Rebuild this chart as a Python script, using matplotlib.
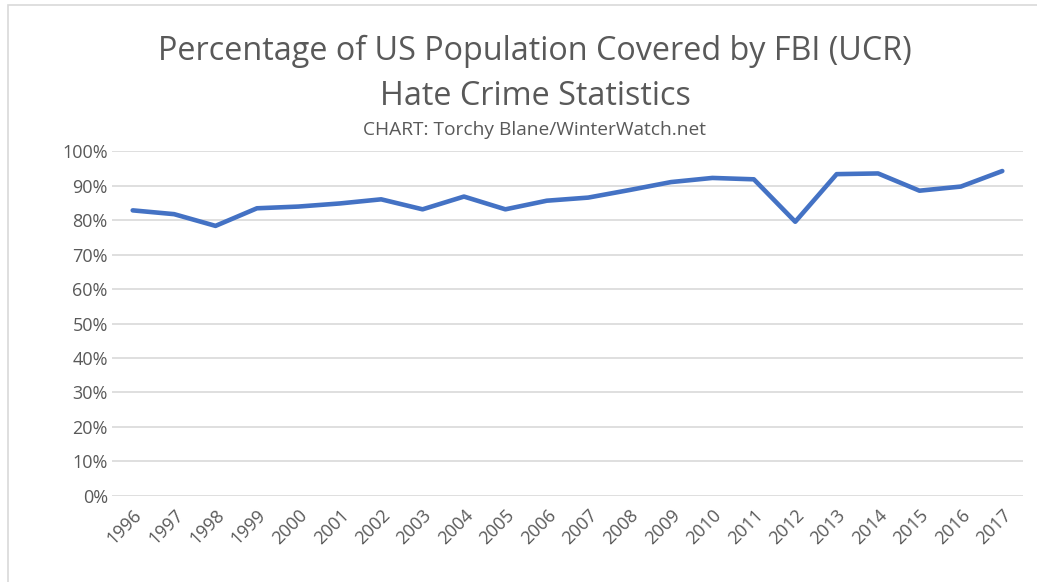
import numpy as np
import matplotlib
matplotlib.use("Agg")
import matplotlib.pyplot as plt
from matplotlib.patches import Rectangle
from matplotlib.ticker import FuncFormatter

# 数据：FBI (UCR) 仇恨犯罪统计覆盖人口比例
years = [str(y) for y in range(1996, 2018)]
coverage = [82.8, 81.7, 78.3, 83.4, 83.9, 84.8, 86.0, 83.1, 86.8, 83.1, 85.6,
            86.5, 88.7, 91.0, 92.2, 91.8, 79.5, 93.3, 93.5, 88.5, 89.7, 94.2]

TEXT = "#595959"
LINE = "#4472C4"
GRID = "#D9D9D9"

plt.rcParams.update({
    "font.family": ["Open Sans", "DejaVu Sans"],
    "text.color": TEXT,
})

fig = plt.figure(figsize=(10.37, 5.82), dpi=100)
fig.patches.append(Rectangle((8 / 1037, -0.1), 1.2, 1 - 5 / 582 + 0.1,
                             transform=fig.transFigure, fill=False,
                             edgecolor=GRID, linewidth=1.2))

ax = fig.add_axes([0.108, 0.1478, 0.8785, 0.5927])
x = np.arange(len(years))
ax.plot(x, coverage, color=LINE, linewidth=3.3, solid_capstyle="round",
        solid_joinstyle="round", zorder=3)

ax.set_xlim(-0.5, len(years) - 0.5)
ax.set_ylim(0, 100)
ax.set_yticks(np.arange(0, 101, 10))
ax.yaxis.set_major_formatter(FuncFormatter(lambda v, _: f"{int(v)}%"))
ax.set_xticks(x)
ax.set_xticklabels(years, rotation=45, ha="right", rotation_mode="anchor")
ax.tick_params(length=0, labelsize=13, colors=TEXT, pad=7)
ax.tick_params(axis="y", pad=3)
ax.grid(axis="y", color=GRID, linewidth=1.2)
ax.set_axisbelow(True)
for s in ax.spines.values():
    s.set_visible(False)

fig.text(0.516, 0.911, "Percentage of US Population Covered by FBI (UCR)",
         ha="center", va="center", fontsize=23.3, color=TEXT)
fig.text(0.516, 0.835, "Hate Crime Statistics",
         ha="center", va="center", fontsize=23.3, color=TEXT)
fig.text(0.515, 0.777, "CHART: Torchy Blane/WinterWatch.net",
         ha="center", va="center", fontsize=13.8, color=TEXT)

fig.savefig("out.png", dpi=100)
